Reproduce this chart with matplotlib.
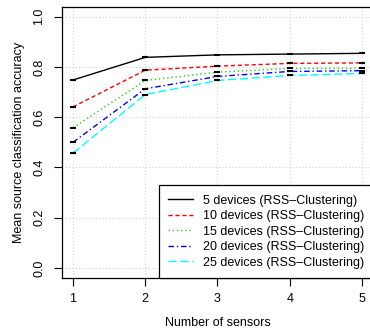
import matplotlib
matplotlib.use("Agg")
import matplotlib.pyplot as plt

# number of sensors on x, mean accuracy per device count
sensors = [1, 2, 3, 4, 5]
acc_5 = [0.748, 0.838, 0.848, 0.851, 0.854]
acc_10 = [0.641, 0.787, 0.803, 0.814, 0.816]
acc_15 = [0.558, 0.746, 0.779, 0.794, 0.795]
acc_20 = [0.500, 0.713, 0.762, 0.782, 0.785]
acc_25 = [0.457, 0.690, 0.746, 0.766, 0.774]
labels = ["5 devices (RSS\u2013Clustering)", "10 devices (RSS\u2013Clustering)",
          "15 devices (RSS\u2013Clustering)", "20 devices (RSS\u2013Clustering)",
          "25 devices (RSS\u2013Clustering)"]

plt.rcParams["font.family"] = ["Liberation Sans", "DejaVu Sans"]
plt.rcParams["font.size"] = 9

W, H = 370, 331
fig = plt.figure(figsize=(W / 100, H / 100), dpi=100)
# R-ish plot region; right edge is cut off in the original
ax = fig.add_axes([61.5 / W, 1 - 278 / H, 312 / W, 271.4 / H])

styles = [
    ("black", "-"),
    ("red", (0, (3, 2))),
    ("#22cc22", (0, (1, 2))),
    ("blue", (0, (4, 2, 1, 2))),
    ("cyan", (0, (6, 2.5))),
]
series = [acc_5, acc_10, acc_15, acc_20, acc_25]
for vals, (c, ls), lab in zip(series, styles, labels):
    ax.plot(sensors, vals, color=c, linestyle=ls, linewidth=1.0, label=lab)
    ax.plot(sensors, vals, linestyle="none", marker="_", color="black",
            markersize=5, markeredgewidth=1.5)

ax.set_xlim(0.84, 5.16)
ax.set_ylim(-0.04, 1.04)
ax.set_xticks(sensors)
ax.set_yticks([0.0, 0.2, 0.4, 0.6, 0.8, 1.0])
ax.set_yticklabels(["0.0", "0.2", "0.4", "0.6", "0.8", "1.0"], rotation=90,
                   va="center")
ax.grid(True, color="#d3d3d3", linestyle=(0, (1, 2)), linewidth=0.8)
ax.tick_params(direction="out", length=5.5, width=0.8, labelsize=9)
ax.tick_params(axis="x", pad=5)
ax.tick_params(axis="y", pad=6)
for s in ax.spines.values():
    s.set_linewidth(0.9)

ax.set_xlabel("Number of sensors", fontsize=9, labelpad=9)
ax.set_ylabel("Mean source classification accuracy", fontsize=9, labelpad=6)

leg = ax.legend(loc="lower right", bbox_to_anchor=(1, 0), borderaxespad=0,
                fancybox=False, edgecolor="black", framealpha=1,
                handlelength=2.0, handletextpad=0.8, labelspacing=0.28,
                borderpad=0.75, fontsize=9)
leg.get_frame().set_linewidth(0.9)

fig.savefig("out.png", dpi=100)
